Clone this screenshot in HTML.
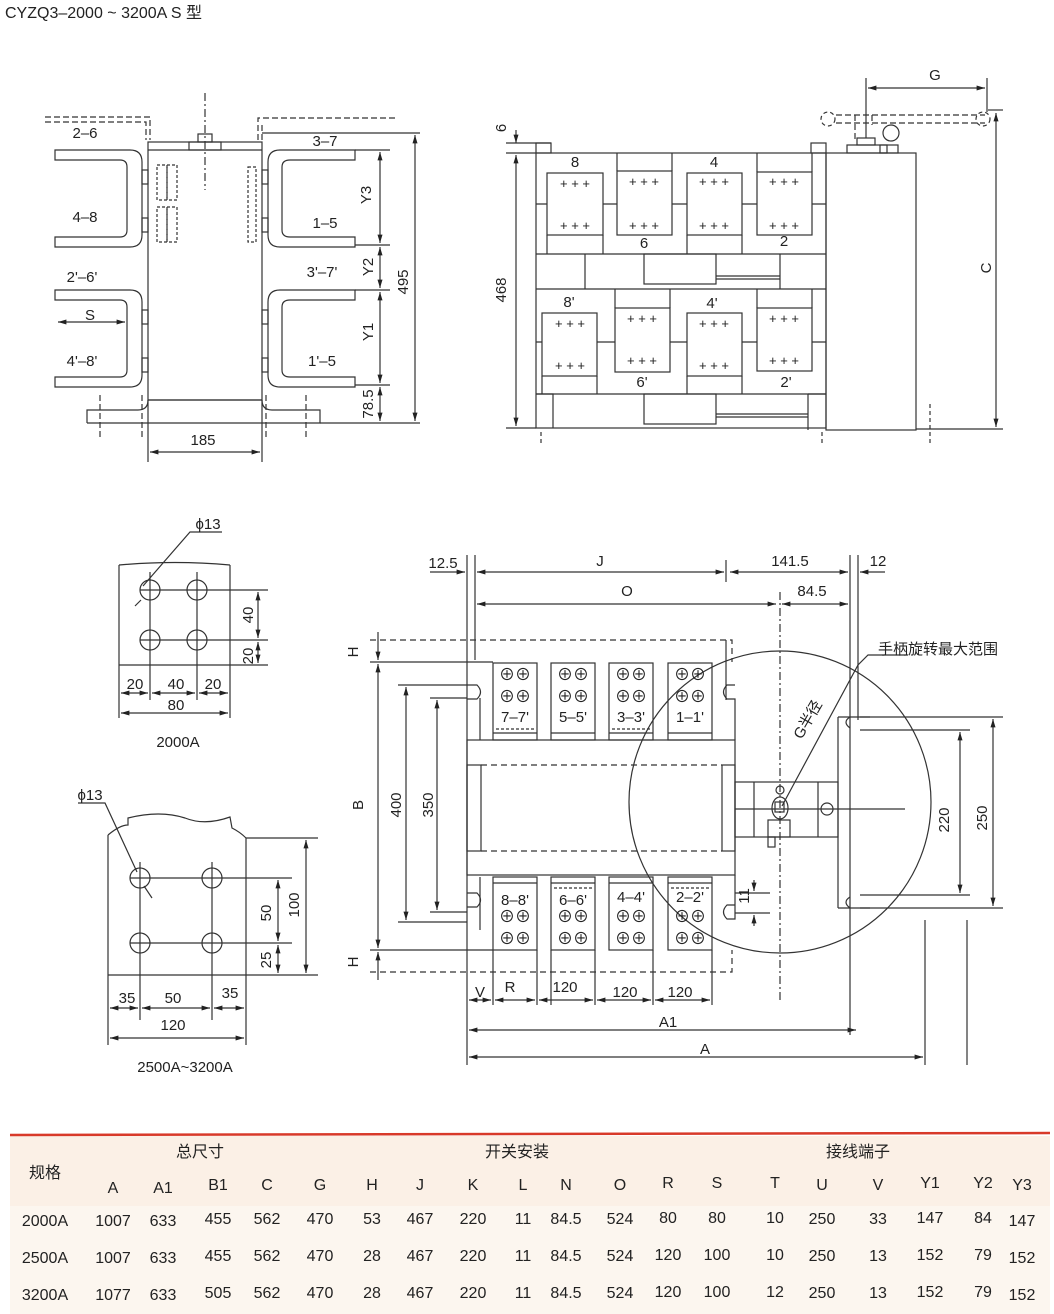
<!DOCTYPE html>
<html><head><meta charset="utf-8"><style>
body{margin:0;background:#fff;}
svg{display:block}
text{font-family:"Liberation Sans","Noto Sans CJK SC",sans-serif;fill:#222}
</style></head><body>
<svg width="1054" height="1314" viewBox="0 0 1054 1314" xmlns="http://www.w3.org/2000/svg">
<defs>
<marker id="a" viewBox="0 0 10 10" refX="10" refY="5" markerWidth="7" markerHeight="7" orient="auto-start-reverse"><path d="M0,2 L10,5 L0,8 z" fill="#222"/></marker>
</defs>
<rect x="0" y="0" width="1054" height="1314" fill="#fff"/>
<text x="5" y="18" font-size="16">CYZQ3–2000 ~ 3200A S 型</text>

<g stroke="#333" stroke-width="1.2" fill="none">
<!-- ===== TOP LEFT VIEW ===== -->
<path d="M45,117 H150 V140 M45,122 H146 V140" stroke-dasharray="6,3"/>
<path d="M258,140 V118 H395 M262,140 V122" stroke-dasharray="6,3"/>
<line x1="205" y1="93" x2="205" y2="190" stroke-dasharray="8,3,2,3"/>
<rect x="148" y="142" width="114" height="258"/>
<line x1="148" y1="150" x2="262" y2="150"/>
<line x1="262" y1="133" x2="420" y2="133"/>
<rect x="189" y="142" width="32" height="8"/><rect x="198" y="134" width="14" height="8"/>
<rect x="157" y="165" width="10" height="35" stroke-dasharray="3,2"/><rect x="167" y="165" width="10" height="35" stroke-dasharray="3,2"/>
<rect x="157" y="207" width="10" height="35" stroke-dasharray="3,2"/><rect x="167" y="207" width="10" height="35" stroke-dasharray="3,2"/>
<rect x="248" y="167" width="8" height="75" stroke-dasharray="3,2"/>
<!-- left brackets -->
<path d="M55,150 H130 Q142,150 142,162 V235 Q142,247 130,247 H55 V237 H120 Q127,237 127,230 V167 Q127,160 120,160 H55 Z"/>
<path d="M55,290 H130 Q142,290 142,302 V375 Q142,387 130,387 H55 V377 H120 Q127,377 127,370 V307 Q127,300 120,300 H55 Z"/>
<rect x="142" y="170" width="6" height="14"/><rect x="142" y="218" width="6" height="14"/>
<rect x="142" y="310" width="6" height="14"/><rect x="142" y="358" width="6" height="14"/>
<!-- right brackets -->
<path d="M355,150 H280 Q268,150 268,162 V235 Q268,247 280,247 H355 V237 H290 Q282,237 282,230 V167 Q282,160 290,160 H355 Z"/>
<path d="M355,290 H280 Q268,290 268,302 V375 Q268,387 280,387 H355 V377 H290 Q282,377 282,370 V307 Q282,300 290,300 H355 Z"/>
<rect x="262" y="170" width="6" height="14"/><rect x="262" y="218" width="6" height="14"/>
<rect x="262" y="310" width="6" height="14"/><rect x="262" y="358" width="6" height="14"/>
<!-- base -->
<path d="M87,423 V410 H138 Q148,410 148,400"/>
<path d="M262,400 Q262,410 272,410 H320 V423 H87"/>
<line x1="148" y1="400" x2="262" y2="400"/>
<line x1="100" y1="395" x2="100" y2="440" stroke-dasharray="6,3"/>
<line x1="142" y1="395" x2="142" y2="440" stroke-dasharray="6,3"/>
<line x1="266" y1="395" x2="266" y2="440" stroke-dasharray="6,3"/>
<line x1="306" y1="395" x2="306" y2="440" stroke-dasharray="6,3"/>
<line x1="148" y1="400" x2="148" y2="462"/><line x1="262" y1="400" x2="262" y2="462"/>
<line x1="150" y1="452" x2="260" y2="452" marker-start="url(#a)" marker-end="url(#a)"/>
<line x1="355" y1="150" x2="390" y2="150"/><line x1="355" y1="245" x2="390" y2="245"/>
<line x1="355" y1="290" x2="390" y2="290"/><line x1="355" y1="385" x2="390" y2="385"/>
<line x1="320" y1="423" x2="420" y2="423"/>
<line x1="380" y1="152" x2="380" y2="243" marker-start="url(#a)" marker-end="url(#a)"/>
<line x1="380" y1="247" x2="380" y2="288" marker-start="url(#a)" marker-end="url(#a)"/>
<line x1="380" y1="292" x2="380" y2="383" marker-start="url(#a)" marker-end="url(#a)"/>
<line x1="380" y1="387" x2="380" y2="421" marker-start="url(#a)" marker-end="url(#a)"/>
<line x1="415" y1="135" x2="415" y2="421" marker-start="url(#a)" marker-end="url(#a)"/>
<line x1="58" y1="322" x2="125" y2="322" marker-start="url(#a)" marker-end="url(#a)"/>

<!-- ===== TOP RIGHT VIEW ===== -->
<rect x="536" y="153" width="290" height="275"/>
<rect x="536" y="143" width="15" height="10"/><rect x="811" y="143" width="15" height="10"/>
<rect x="826" y="153" width="90" height="277"/>
<rect x="847" y="145" width="40" height="8"/><rect x="857" y="138" width="18" height="7"/>
<rect x="880" y="145" width="18" height="8"/><circle cx="891" cy="133" r="8"/>
<line x1="866" y1="78" x2="866" y2="138"/><line x1="987" y1="78" x2="987" y2="112"/>
<line x1="868" y1="88" x2="985" y2="88" marker-start="url(#a)" marker-end="url(#a)"/>
<path d="M836,115 H985 M836,123 H985 M855,115 V140 M872,115 V125" stroke-dasharray="6,3"/>
<circle cx="828" cy="119" r="7" stroke-dasharray="4,3"/><circle cx="983" cy="119" r="7" stroke-dasharray="4,3"/>
<line x1="988" y1="110" x2="1003" y2="110"/>
<line x1="916" y1="429" x2="1003" y2="429"/>
<line x1="996" y1="113" x2="996" y2="427" marker-start="url(#a)" marker-end="url(#a)"/>
<line x1="506" y1="143" x2="551" y2="143"/><line x1="506" y1="153" x2="536" y2="153"/><line x1="506" y1="428" x2="536" y2="428"/>
<line x1="516" y1="130" x2="516" y2="143" marker-end="url(#a)"/>
<line x1="516" y1="155" x2="516" y2="426" marker-start="url(#a)" marker-end="url(#a)"/>
<!-- upper modules -->
<rect x="547" y="173" width="56" height="62"/><path d="M547,235 V254 M603,235 V254 M536,204 H547 M603,204 H617"/>
<rect x="617" y="171" width="55" height="64"/><path d="M617,153 V171 M672,153 V171 M672,204 H687"/>
<rect x="687" y="173" width="55" height="62"/><path d="M687,235 V254 M742,235 V254 M742,204 H757"/>
<rect x="757" y="172" width="55" height="63"/><path d="M757,153 V172 M812,153 V172 M812,204 H826"/>
<line x1="536" y1="254" x2="826" y2="254"/><line x1="536" y1="289" x2="826" y2="289"/>
<path d="M585,254 V289 M780,254 V289"/><rect x="644" y="254" width="72" height="30"/>
<path d="M716,276 H780 M716,279 H780"/>
<!-- lower modules -->
<rect x="542" y="313" width="55" height="63"/><path d="M542,376 V394 M597,376 V394 M536,342 H542 M597,342 H615"/>
<rect x="615" y="308" width="55" height="64"/><path d="M615,289 V308 M670,289 V308 M670,342 H687"/>
<rect x="687" y="313" width="55" height="63"/><path d="M687,376 V394 M742,376 V394 M742,342 H757"/>
<rect x="757" y="308" width="55" height="63"/><path d="M757,289 V308 M812,289 V308 M812,342 H826"/>
<line x1="536" y1="394" x2="826" y2="394"/>
<rect x="644" y="394" width="72" height="30"/><path d="M716,414 H808 M716,417 H808"/>
<path d="M536,394 H553 V428 M808,394 H826 M808,394 V430"/>
<line x1="541" y1="432" x2="541" y2="445" stroke-dasharray="4,3"/><line x1="822" y1="432" x2="822" y2="445" stroke-dasharray="4,3"/><line x1="930" y1="404" x2="930" y2="445" stroke-dasharray="4,3"/>

<!-- ===== 2000A holes ===== -->
<path d="M119,565 Q175,560 230,565"/>
<line x1="119" y1="565" x2="119" y2="718"/><line x1="230" y1="565" x2="230" y2="718"/>
<line x1="119" y1="665" x2="268" y2="665"/>
<circle cx="150" cy="590" r="10"/><circle cx="197" cy="590" r="10"/>
<circle cx="150" cy="640" r="10"/><circle cx="197" cy="640" r="10"/>
<line x1="140" y1="590" x2="268" y2="590"/><line x1="140" y1="640" x2="268" y2="640"/>
<line x1="150" y1="572" x2="150" y2="700"/><line x1="197" y1="572" x2="197" y2="700"/>
<line x1="258" y1="592" x2="258" y2="638" marker-start="url(#a)" marker-end="url(#a)"/>
<line x1="258" y1="642" x2="258" y2="663" marker-start="url(#a)" marker-end="url(#a)"/>
<line x1="121" y1="693" x2="148" y2="693" marker-start="url(#a)" marker-end="url(#a)"/>
<line x1="152" y1="693" x2="195" y2="693" marker-start="url(#a)" marker-end="url(#a)"/>
<line x1="199" y1="693" x2="228" y2="693" marker-start="url(#a)" marker-end="url(#a)"/>
<line x1="121" y1="713" x2="228" y2="713" marker-start="url(#a)" marker-end="url(#a)"/>
<path d="M222,532 H190 L143,586 M135,606 L141,600" />

<!-- ===== 2500A holes ===== -->
<path d="M108,835 Q120,825 128,825 V818 Q160,810 185,818 Q205,826 230,817 L232,828 Q240,832 246,838"/>
<line x1="108" y1="835" x2="108" y2="1045"/><line x1="246" y1="838" x2="246" y2="1045"/>
<line x1="246" y1="838" x2="318" y2="838"/>
<line x1="108" y1="975" x2="318" y2="975"/>
<circle cx="140" cy="878" r="10"/><circle cx="212" cy="878" r="10"/>
<circle cx="140" cy="943" r="10"/><circle cx="212" cy="943" r="10"/>
<line x1="130" y1="878" x2="292" y2="878"/><line x1="130" y1="943" x2="292" y2="943"/>
<line x1="140" y1="862" x2="140" y2="1020"/><line x1="212" y1="862" x2="212" y2="1020"/>
<line x1="278" y1="880" x2="278" y2="941" marker-start="url(#a)" marker-end="url(#a)"/>
<line x1="278" y1="945" x2="278" y2="973" marker-start="url(#a)" marker-end="url(#a)"/>
<line x1="306" y1="840" x2="306" y2="973" marker-start="url(#a)" marker-end="url(#a)"/>
<line x1="110" y1="1008" x2="138" y2="1008" marker-start="url(#a)" marker-end="url(#a)"/>
<line x1="142" y1="1008" x2="210" y2="1008" marker-start="url(#a)" marker-end="url(#a)"/>
<line x1="214" y1="1008" x2="244" y2="1008" marker-start="url(#a)" marker-end="url(#a)"/>
<line x1="110" y1="1038" x2="244" y2="1038" marker-start="url(#a)" marker-end="url(#a)"/>
<path d="M78,803 H105 L137,872 M144,886 L152,898"/>

<!-- ===== MAIN BOTTOM VIEW ===== -->
<line x1="467" y1="555" x2="467" y2="1065"/><line x1="475" y1="555" x2="475" y2="660"/>
<line x1="850" y1="555" x2="850" y2="1035"/><line x1="858" y1="555" x2="858" y2="720"/>
<line x1="726" y1="560" x2="726" y2="582"/>
<line x1="477" y1="572" x2="724" y2="572" marker-start="url(#a)" marker-end="url(#a)"/>
<line x1="730" y1="572" x2="848" y2="572" marker-start="url(#a)" marker-end="url(#a)"/>
<line x1="430" y1="572" x2="465" y2="572" marker-end="url(#a)"/>
<line x1="885" y1="572" x2="860" y2="572" marker-end="url(#a)"/>
<line x1="477" y1="604" x2="776" y2="604" marker-start="url(#a)" marker-end="url(#a)"/>
<line x1="782" y1="604" x2="848" y2="604" marker-start="url(#a)" marker-end="url(#a)"/>
<line x1="780" y1="592" x2="780" y2="1000" stroke-dasharray="8,3,2,3"/>
<path d="M370,640 H732 V662" stroke-dasharray="6,4"/>
<path d="M370,972 H732 V950" stroke-dasharray="6,4"/>
<line x1="726" y1="640" x2="726" y2="700"/>
<line x1="370" y1="662" x2="493" y2="662"/><line x1="370" y1="950" x2="493" y2="950"/>
<rect x="467" y="740" width="268" height="135"/>
<rect x="467" y="765" width="14" height="86"/><rect x="722" y="765" width="13" height="86"/>
<path d="M481,765 H722 M481,851 H722" stroke-dasharray="6,4"/>
<rect x="735" y="782" width="103" height="55"/>
<path d="M754,782 V837 M818,782 V837"/>
<line x1="735" y1="809" x2="905" y2="809"/>
<circle cx="780" cy="790" r="4"/><ellipse cx="780" cy="808" rx="8" ry="11"/><rect x="775" y="802" width="9" height="10"/>
<rect x="768" y="820" width="22" height="17"/><rect x="768" y="837" width="7" height="10"/>
<circle cx="827" cy="809" r="6"/>
<path d="M838,717 H870 M838,908 H870 M838,717 V908"/>
<path d="M850,717 Q842,722 850,728 M850,897 Q842,902 850,908"/>
<path d="M467,685 H477 Q484,692 477,699 H467 M467,893 H477 Q484,900 477,907 H467"/>
<path d="M735,685 H727 Q720,692 727,699 H735 V740 M735,905 H727 Q720,912 727,919 H735 V875"/>
<path d="M480,698 V740 M480,877 V930"/>
<rect x="493" y="663" width="44" height="77"/><rect x="551" y="663" width="44" height="77"/>
<rect x="609" y="663" width="44" height="77"/><rect x="668" y="663" width="44" height="77"/>
<path d="M493,733 H537 M551,733 H595 M609,733 H653 M668,733 H712"/>
<path d="M496,729 H534 M612,729 H650" stroke-dasharray="3,2"/>
<rect x="493" y="877" width="44" height="73"/><rect x="551" y="877" width="44" height="73"/>
<rect x="609" y="877" width="44" height="73"/><rect x="668" y="877" width="44" height="73"/>
<path d="M493,883 H537 M551,883 H595 M609,883 H653 M668,883 H712"/>
<path d="M554,888 H592 M671,888 H709" stroke-dasharray="3,2"/>
<circle cx="780" cy="802" r="151"/>
<path d="M908,655 H868 L858,665 L782,806"/>
<line x1="378" y1="632" x2="378" y2="660" marker-end="url(#a)"/>
<line x1="378" y1="664" x2="378" y2="948" marker-start="url(#a)" marker-end="url(#a)"/>
<line x1="378" y1="952" x2="378" y2="980" marker-start="url(#a)"/>
<line x1="398" y1="685" x2="467" y2="685"/><line x1="398" y1="922" x2="467" y2="922"/>
<line x1="406" y1="687" x2="406" y2="920" marker-start="url(#a)" marker-end="url(#a)"/>
<line x1="430" y1="698" x2="467" y2="698"/><line x1="430" y1="912" x2="467" y2="912"/>
<line x1="437" y1="700" x2="437" y2="910" marker-start="url(#a)" marker-end="url(#a)"/>
<line x1="860" y1="730" x2="970" y2="730"/><line x1="860" y1="895" x2="970" y2="895"/>
<line x1="960" y1="732" x2="960" y2="893" marker-start="url(#a)" marker-end="url(#a)"/>
<line x1="860" y1="717" x2="1003" y2="717"/><line x1="860" y1="908" x2="1003" y2="908"/>
<line x1="993" y1="719" x2="993" y2="906" marker-start="url(#a)" marker-end="url(#a)"/>
<line x1="967" y1="920" x2="967" y2="1065"/><line x1="925" y1="920" x2="925" y2="1065"/>
<line x1="735" y1="893" x2="770" y2="893"/><line x1="735" y1="913" x2="770" y2="913"/>
<line x1="754" y1="880" x2="754" y2="891" marker-end="url(#a)"/><line x1="754" y1="926" x2="754" y2="915" marker-end="url(#a)"/>
<path d="M493,950 V1005 M537,950 V1005 M551,950 V1005 M595,950 V1005 M653,950 V1005 M712,950 V1005"/>
<line x1="469" y1="1000" x2="491" y2="1000" marker-start="url(#a)" marker-end="url(#a)"/>
<line x1="495" y1="1000" x2="535" y2="1000" marker-start="url(#a)" marker-end="url(#a)"/>
<line x1="539" y1="1000" x2="593" y2="1000" marker-start="url(#a)" marker-end="url(#a)"/>
<line x1="597" y1="1000" x2="651" y2="1000" marker-start="url(#a)" marker-end="url(#a)"/>
<line x1="655" y1="1000" x2="710" y2="1000" marker-start="url(#a)" marker-end="url(#a)"/>
<line x1="469" y1="1030" x2="856" y2="1030" marker-start="url(#a)" marker-end="url(#a)"/>
<line x1="469" y1="1057" x2="923" y2="1057" marker-start="url(#a)" marker-end="url(#a)"/>
</g>

<g font-size="13" text-anchor="middle" font-family="Liberation Sans">
<text x="575" y="188">+ + +</text><text x="575" y="230">+ + +</text>
<text x="644" y="186">+ + +</text><text x="644" y="230">+ + +</text>
<text x="714" y="186">+ + +</text><text x="714" y="230">+ + +</text>
<text x="784" y="186">+ + +</text><text x="784" y="230">+ + +</text>
<text x="570" y="328">+ + +</text><text x="570" y="370">+ + +</text>
<text x="642" y="323">+ + +</text><text x="642" y="365">+ + +</text>
<text x="714" y="328">+ + +</text><text x="714" y="370">+ + +</text>
<text x="784" y="323">+ + +</text><text x="784" y="365">+ + +</text>
</g>
<g font-size="16" text-anchor="middle">
<text x="515" y="680">⊕⊕</text><text x="515" y="702">⊕⊕</text>
<text x="573" y="680">⊕⊕</text><text x="573" y="702">⊕⊕</text>
<text x="631" y="680">⊕⊕</text><text x="631" y="702">⊕⊕</text>
<text x="690" y="680">⊕⊕</text><text x="690" y="702">⊕⊕</text>
<text x="515" y="922">⊕⊕</text><text x="515" y="944">⊕⊕</text>
<text x="573" y="922">⊕⊕</text><text x="573" y="944">⊕⊕</text>
<text x="631" y="922">⊕⊕</text><text x="631" y="944">⊕⊕</text>
<text x="690" y="922">⊕⊕</text><text x="690" y="944">⊕⊕</text>
</g>

<g font-size="15" text-anchor="middle">
<text x="85" y="138">2–6</text><text x="85" y="222">4–8</text>
<text x="82" y="282">2'–6'</text><text x="82" y="366">4'–8'</text><text x="90" y="320">S</text>
<text x="325" y="146">3–7</text><text x="325" y="228">1–5</text>
<text x="322" y="277">3'–7'</text><text x="322" y="366">1'–5</text>
<text x="203" y="445">185</text>
<text transform="translate(371,195) rotate(-90)">Y3</text>
<text transform="translate(373,267) rotate(-90)">Y2</text>
<text transform="translate(373,332) rotate(-90)">Y1</text>
<text transform="translate(373,404) rotate(-90)">78.5</text>
<text transform="translate(408,282) rotate(-90)">495</text>
<text x="575" y="167">8</text><text x="714" y="167">4</text><text x="644" y="248">6</text><text x="784" y="246">2</text>
<text x="569" y="307">8'</text><text x="712" y="308">4'</text><text x="642" y="387">6'</text><text x="786" y="387">2'</text>
<text x="935" y="80">G</text>
<text transform="translate(991,268) rotate(-90)">C</text>
<text transform="translate(506,290) rotate(-90)">468</text>
<text transform="translate(506,128) rotate(-90)">6</text>
<text x="208" y="529">ϕ13</text>
<text x="135" y="689">20</text><text x="176" y="689">40</text><text x="213" y="689">20</text><text x="176" y="710">80</text>
<text transform="translate(253,615) rotate(-90)">40</text><text transform="translate(253,656) rotate(-90)">20</text>
<text x="178" y="747">2000A</text>
<text x="90" y="800">ϕ13</text>
<text x="127" y="1003">35</text><text x="173" y="1003">50</text><text x="230" y="998">35</text><text x="173" y="1030">120</text>
<text transform="translate(271,913) rotate(-90)">50</text><text transform="translate(271,960) rotate(-90)">25</text>
<text transform="translate(299,905) rotate(-90)">100</text>
<text x="185" y="1072">2500A~3200A</text>
<text x="443" y="568">12.5</text><text x="600" y="566">J</text><text x="790" y="566">141.5</text><text x="878" y="566">12</text>
<text x="627" y="596">O</text><text x="812" y="596">84.5</text>
<text x="938" y="654">手柄旋转最大范围</text>
<text transform="translate(812,722) rotate(-60)">G半径</text>
<text x="515" y="722">7–7'</text><text x="573" y="722">5–5'</text><text x="631" y="722">3–3'</text><text x="690" y="722">1–1'</text>
<text x="515" y="905">8–8'</text><text x="573" y="905">6–6'</text><text x="631" y="902">4–4'</text><text x="690" y="902">2–2'</text>
<text transform="translate(358,652) rotate(-90)">H</text>
<text transform="translate(358,962) rotate(-90)">H</text>
<text transform="translate(363,805) rotate(-90)">B</text>
<text transform="translate(401,805) rotate(-90)">400</text>
<text transform="translate(433,805) rotate(-90)">350</text>
<text transform="translate(949,820) rotate(-90)">220</text>
<text transform="translate(987,818) rotate(-90)">250</text>
<text transform="translate(749,896) rotate(-90)">11</text>
<text x="480" y="997">V</text><text x="510" y="992">R</text><text x="565" y="992">120</text><text x="625" y="997">120</text><text x="680" y="997">120</text>
<text x="668" y="1027">A1</text><text x="705" y="1054">A</text>
</g>

<rect x="10" y="1136" width="1040" height="178" fill="#fcf6ef"/>
<rect x="10" y="1136" width="1040" height="70" fill="#fbf0e6"/>
<line x1="10" y1="1135" x2="1050" y2="1133" stroke="#d83a2a" stroke-width="2.5"/>
<g font-size="16" text-anchor="middle">
<text x="200" y="1157">总尺寸</text><text x="517" y="1157">开关安装</text><text x="858" y="1157">接线端子</text>
<text x="45" y="1178">规格</text>
<text x="113" y="1193">A</text><text x="163" y="1193">A1</text><text x="218" y="1190">B1</text><text x="267" y="1190">C</text><text x="320" y="1190">G</text><text x="372" y="1190">H</text><text x="420" y="1190">J</text><text x="473" y="1190">K</text><text x="523" y="1190">L</text><text x="566" y="1190">N</text><text x="620" y="1190">O</text><text x="668" y="1188">R</text><text x="717" y="1188">S</text><text x="775" y="1188">T</text><text x="822" y="1190">U</text><text x="878" y="1190">V</text><text x="930" y="1188">Y1</text><text x="983" y="1188">Y2</text><text x="1022" y="1190">Y3</text>
</g>
<g font-size="16" text-anchor="middle">
<text x="45" y="1226">2000A</text><text x="113" y="1226">1007</text><text x="163" y="1226">633</text><text x="218" y="1224">455</text><text x="267" y="1224">562</text><text x="320" y="1224">470</text><text x="372" y="1224">53</text><text x="420" y="1224">467</text><text x="473" y="1224">220</text><text x="523" y="1224">11</text><text x="566" y="1224">84.5</text><text x="620" y="1224">524</text><text x="668" y="1223">80</text><text x="717" y="1223">80</text><text x="775" y="1223">10</text><text x="822" y="1224">250</text><text x="878" y="1224">33</text><text x="930" y="1223">147</text><text x="983" y="1223">84</text><text x="1022" y="1226">147</text>
<text x="45" y="1263">2500A</text><text x="113" y="1263">1007</text><text x="163" y="1263">633</text><text x="218" y="1261">455</text><text x="267" y="1261">562</text><text x="320" y="1261">470</text><text x="372" y="1261">28</text><text x="420" y="1261">467</text><text x="473" y="1261">220</text><text x="523" y="1261">11</text><text x="566" y="1261">84.5</text><text x="620" y="1261">524</text><text x="668" y="1260">120</text><text x="717" y="1260">100</text><text x="775" y="1260">10</text><text x="822" y="1261">250</text><text x="878" y="1261">13</text><text x="930" y="1260">152</text><text x="983" y="1260">79</text><text x="1022" y="1263">152</text>
<text x="45" y="1300">3200A</text><text x="113" y="1300">1077</text><text x="163" y="1300">633</text><text x="218" y="1298">505</text><text x="267" y="1298">562</text><text x="320" y="1298">470</text><text x="372" y="1298">28</text><text x="420" y="1298">467</text><text x="473" y="1298">220</text><text x="523" y="1298">11</text><text x="566" y="1298">84.5</text><text x="620" y="1298">524</text><text x="668" y="1297">120</text><text x="717" y="1297">100</text><text x="775" y="1297">12</text><text x="822" y="1298">250</text><text x="878" y="1298">13</text><text x="930" y="1297">152</text><text x="983" y="1297">79</text><text x="1022" y="1300">152</text>
</g>
</svg>
</body></html>
